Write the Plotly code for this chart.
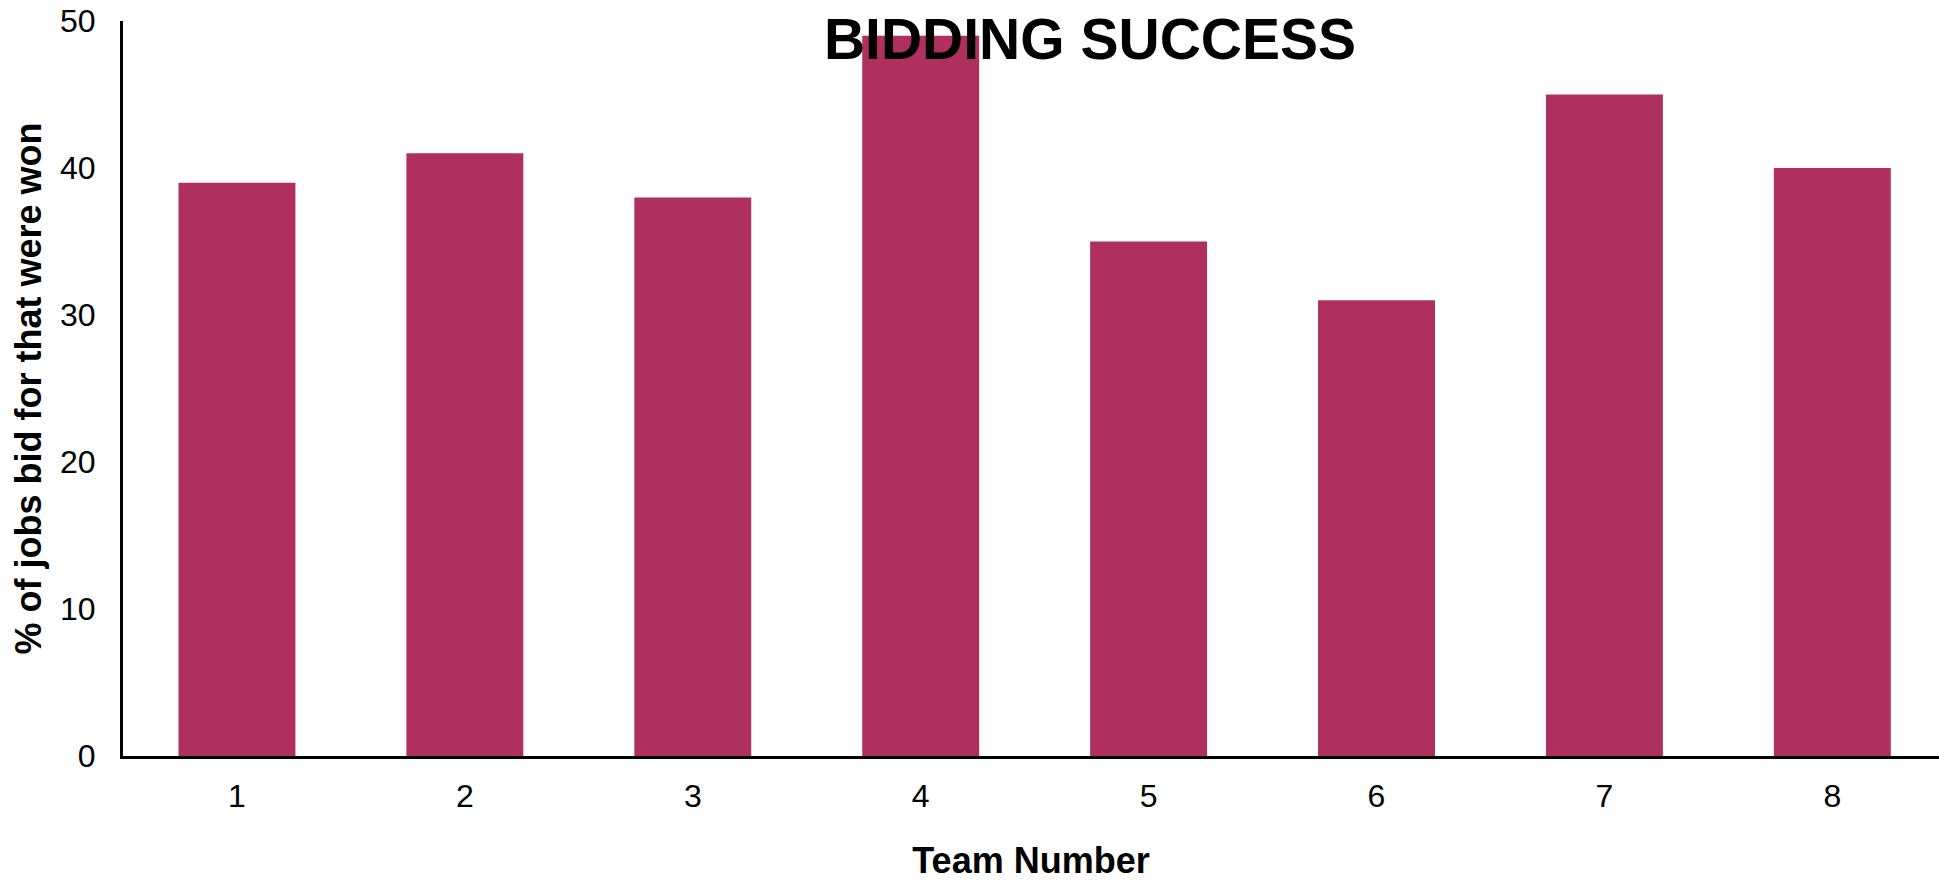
import plotly.graph_objects as go

teams = [1, 2, 3, 4, 5, 6, 7, 8]
win_pct = [39, 41, 38, 49, 35, 31, 45, 40]
y_ticks = [0, 10, 20, 30, 40, 50]

FONT = "Liberation Sans, Arial, sans-serif"
BAR_COLOR = "#AF2F5E"

FIG_W, FIG_H = 1939, 881

fig = go.Figure(
    go.Bar(
        x=teams,
        y=win_pct,
        width=0.513,
        marker=dict(color=BAR_COLOR, line=dict(width=0)),
        hoverinfo="x+y",
    )
)

fig.update_layout(
    width=FIG_W,
    height=FIG_H,
    margin=dict(l=123, r=0, t=21, b=125, autoexpand=False),
    paper_bgcolor="white",
    plot_bgcolor="white",
    showlegend=False,
    font=dict(family=FONT, color="black"),
    title=dict(
        text="<b>BIDDING SUCCESS</b>",
        font=dict(family=FONT, size=57, color="black"),
        x=1090 / FIG_W,
        xref="container",
        xanchor="center",
        y=1 - 39 / FIG_H,
        yref="container",
        yanchor="middle",
    ),
    xaxis=dict(
        range=[0.5, 8.468],
        tickvals=teams,
        ticktext=[str(t) for t in teams],
        tickfont=dict(family=FONT, size=32, color="black"),
        showgrid=False,
        zeroline=False,
        showline=True,
        linecolor="black",
        linewidth=3,
        ticks="",
        ticklabelstandoff=10,
        ticklabeloverflow="allow",
        automargin=False,
        title=dict(
            text="<b>Team Number</b>",
            font=dict(family=FONT, size=36, color="black"),
            standoff=46,
        ),
    ),
    yaxis=dict(
        range=[0, 50],
        tickvals=y_ticks,
        tickfont=dict(family=FONT, size=32, color="black"),
        showgrid=False,
        zeroline=False,
        showline=True,
        linecolor="black",
        linewidth=3,
        ticks="",
        ticklabelstandoff=18,
        ticklabeloverflow="allow",
        automargin=False,
        title=dict(
            text="<b>% of jobs bid for that were won</b>",
            font=dict(family=FONT, size=36, color="black"),
            standoff=8,
        ),
    ),
)

fig.write_html(
    "out.html",
    config={"displayModeBar": False},
    post_script="document.body.style.margin='0';document.body.style.overflow='hidden';",
)
